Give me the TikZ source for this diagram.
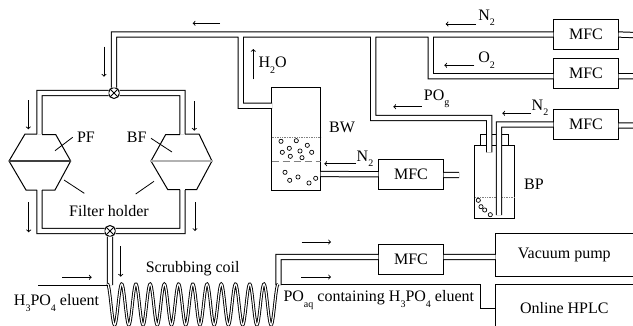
\documentclass[tikz,border=0pt]{standalone}
\usepackage{fontspec}
\setmainfont{Liberation Serif}
\usetikzlibrary{shapes,arrows,positioning}
\newcommand{\lowsub}[1]{\raisebox{-0.75ex}{\fontsize{10}{10}\selectfont #1}}
\tikzset{
    wall/.style={line width=1pt, black},
    pipe/.style={wall, double=white, double distance=4.3pt},
    coil/.style={line width=0.9pt, black, double=white, double distance=1.2pt},
    flow/.style={->, line width=0.9pt, black},
    leader/.style={line width=0.8pt, black},
    box/.style={rectangle, draw, wall, inner sep=0pt, outer sep=0pt},
    mfc/.style={box, minimum width=65.4pt, minimum height=30.4pt},
    valve/.style={circle, draw, wall, minimum size=11pt, inner sep=0pt, outer sep=0pt},
    bubble/.style={line width=0.7pt, black},
}
\begin{document}
\begin{tikzpicture}[x=1pt, y=-1pt, every node/.style={font=\fontsize{16}{18}\selectfont}]
    \useasboundingbox (0,0) rectangle (633,325);

    % flow controllers and instruments
    \node (mfcTop) [mfc] at (586,34.5) {MFC};
    \node (mfcMid) [mfc] at (586,73.7) {MFC};
    \node (mfcBp) [mfc] at (586,124.5) {MFC};
    \node (mfcBw) [mfc] at (411,174.3) {MFC};
    \node (mfcVac) [mfc] at (411,259.3) {MFC};
    \node (vacuum) [box, minimum width=137.5pt, minimum height=43pt] at (564.3,254.8) {Vacuum pump};
    \node (hplc) [box, minimum width=137.5pt, minimum height=48pt] at (564.3,308.3) {Online HPLC};

    % vessels
    \node (bw) [box, minimum width=49.3pt, minimum height=103.4pt] at (296.3,139) {};
    \node (bp) [box, minimum width=39.3pt, minimum height=73.3pt] at (494.6,182.3) {};
    \node (bpCap) [box, minimum width=27.4pt, minimum height=11.4pt, above=0pt of bp] {};

    % liquid in the vessels
    \draw[gray, line width=0.7pt, densely dotted] (bw.west |- 0,137) -- (bw.east |- 0,137);
    \draw[gray, line width=1.4pt, dash pattern=on 7pt off 4pt] (bw.west |- 0,161.7) -- (bw.east |- 0,161.7);
    \draw[gray, line width=0.7pt, densely dotted] (bp.west |- 0,197.3) -- (bp.east |- 0,197.3);
    \foreach \p in {(281,141.3),(296.3,140.7),(307.3,145.3),(289.3,148.3),(282.3,152.3),(300,151),(311.7,152.3),(290.3,156.3),(302,157.7),
                    (285,172.3),(298,177),(289.7,180.3),(315.7,178.3),(309,183)}
        \draw[bubble] \p circle (2.1pt);
    \foreach \p in {(478.3,200.3),(481,206.7),(484.7,210),(490.3,214.7)}
        \draw[bubble] \p circle (2.1pt);

    % valves
    \node (valveTop) [valve] at (114,93) {};
    \node (valveBot) [valve] at (110,231) {};
    \draw[wall] (valveTop.45) -- (valveTop.225) (valveTop.135) -- (valveTop.315);
    \draw[wall] (valveBot.45) -- (valveBot.225) (valveBot.135) -- (valveBot.315);

    % junctions and free ends of the lines
    \coordinate (teeBw) at (240.8,35);
    \coordinate (teeBp) at (373.2,35);
    \coordinate (teeMid) at (430.7,35);
    \coordinate (bwIn) at (272.2,105.7);
    \coordinate (bwOut) at (320.6,174);
    \coordinate (bpGas) at (489.2,152.3);
    \coordinate (bpTube) at (499,215);
    \coordinate (pfIn) at (39.5,134);
    \coordinate (bfIn) at (182.5,134);
    \coordinate (pfOut) at (39.5,190);
    \coordinate (bfOut) at (182.5,190);
    \coordinate (coilIn) at (110,285);
    \coordinate (coilOut) at (278.4,285);
    \coordinate (eluentIn) at (38,285);
    \coordinate (eluentEnd) at (108,285);
    \coordinate (eluentOut) at (280.8,284.3);
    \coordinate (hplcTurn) at (480.3,308.3);
    \coordinate (endTop) at (633,35);
    \coordinate (endMid) at (633,76.2);
    \coordinate (endBp) at (633,125.5);
    \coordinate (endBw) at (459,175);

    % filter holders
    \draw[wall] (37,134) -- (25,134) -- (9,161) -- (26,190) -- (37,190);
    \draw[wall] (42,134.5) -- (55.7,134.5) -- (70.7,161) -- (55,190) -- (42,190);
    \draw[wall] (185,134) -- (199,134) -- (212,161) -- (196.7,189.5) -- (185,189.5);
    \draw[wall] (180,134.5) -- (165.7,134.5) -- (151,161) -- (167.7,189.5) -- (180,189.5);
    \draw[black!75, line width=2.4pt] (9,161) -- (70.7,161);
    \draw[black!30, line width=2.4pt] (151,161) -- (212,161);

    % gas and liquid lines
    \draw[pipe] (mfcTop.west) -| (valveTop.north)
        (teeBw) |- (bwIn)
        (teeBp) |- (489.2,118) -- (bpGas)
        (teeMid) |- ([yshift=-2.5pt]mfcMid.west)
        (mfcBp.west) -| (bpTube)
        (mfcBw.west) -- (bwOut)
        (valveTop.west) -| (pfIn)
        (valveTop.east) -| (bfIn)
        (pfOut) |- (valveBot.west)
        (bfOut) |- (valveBot.east)
        (valveBot.south) -- (coilIn)
        (coilOut) |- ([yshift=2.3pt]mfcVac.west)
        ([yshift=2.3pt]mfcVac.east) -- ([yshift=-2.2pt]vacuum.west)
        (mfcTop.east) -- (endTop)
        ([yshift=-2.5pt]mfcMid.east) -- (endMid)
        ([yshift=-1pt]mfcBp.east) -- (endBp)
        ([yshift=-0.7pt]mfcBw.east) -- (endBw);
    \draw[coil] plot[domain=107.47:278.2, samples=340] (\x,{304.5-20.5*cos(25.3*(\x-121.7))});
    \draw[wall] (eluentIn) -- (eluentEnd);
    \draw[wall] (eluentOut) -| (hplcTurn) -- (hplc.west);

    % direction of flow
    \draw[flow] (220,23.3) -- (192.7,23.3);
    \draw[flow] (104,46.7) -- (104,76.7);
    \draw[flow] (28.3,100) -- (28.3,129.3);
    \draw[flow] (194.3,101) -- (194.3,130.7);
    \draw[flow] (28.7,202.3) -- (28.7,232.3);
    \draw[flow] (195,202.3) -- (195,231);
    \draw[flow] (120.7,246) -- (120.7,276.7);
    \draw[flow] (62.3,277.3) -- (91.7,277.3);
    \draw[flow] (253.3,79.3) -- (253.3,49);
    \draw[flow] (356,163.7) -- (324.3,163.7);
    \draw[flow] (476,24) -- (445.7,24);
    \draw[flow] (474.3,65.3) -- (444.3,65.3);
    \draw[flow] (421.7,106.7) -- (393.3,106.7);
    \draw[flow] (531,113.3) -- (502.3,113.3);
    \draw[flow] (301.7,242) -- (331,242);
    \draw[flow] (301,277) -- (331,277);

    % labels
    \node (pfLabel) at (86,137) {PF};
    \node (bfLabel) at (136.7,137) {BF};
    \node (holderLabel) at (109,211) {Filter holder};
    \node (coilLabel) at (192.7,269) {Scrubbing coil};
    \node (eluentLabel) at (56.5,303) {H\lowsub{3}PO\lowsub{4} eluent};
    \node (aqLabel) at (378.8,300) {PO\lowsub{aq} containing H\lowsub{3}PO\lowsub{4} eluent};
    \node (waterLabel) at (272.7,65) {H\lowsub{2}O};
    \node (bwLabel) at (342,127.7) {BW};
    \node (bpLabel) at (534,184) {BP};
    \node (nitroA) at (486.7,18) {N\lowsub{2}};
    \node (oxyLabel) at (486.7,60) {O\lowsub{2}};
    \node (gasLabel) at (436.7,99) {PO\lowsub{g}};
    \node (nitroB) at (540,108) {N\lowsub{2}};
    \node (nitroC) at (365,159) {N\lowsub{2}};

    % leaders to the labels
    \draw[leader] (55,150.7) -- (72.7,137.3);
    \draw[leader] (172,152) -- (151,138.3);
    \draw[leader] (64,180) -- (84.3,193.3);
    \draw[leader] (154,181.3) -- (135.7,194);
\end{tikzpicture}
\end{document}
